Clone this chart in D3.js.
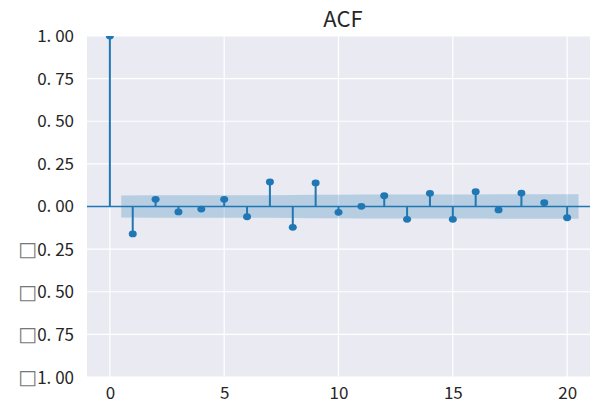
<!DOCTYPE html>
<html>
<head>
<meta charset="UTF-8">
<title>ACF</title>
<style>
  body { margin: 0; background: #fff; }
  text { font-family: "Noto Sans CJK SC", "Noto Sans", sans-serif; fill: #262626; white-space: pre; }
  tspan.box { font-family: "DejaVu Sans", sans-serif; fill: #777; }
</style>
<script src="https://d3js.org/d3.v7.min.js"></script>
</head>
<body>
<script>
// lags and autocorrelation values
var lags = [0, 1, 2, 3, 4, 5, 6, 7, 8, 9, 10, 11, 12, 13, 14, 15, 16, 17, 18, 19, 20];
var acf = [1.0, -0.161, 0.042, -0.032, -0.015, 0.042, -0.060, 0.144, -0.122, 0.138,
           -0.034, 0.001, 0.063, -0.075, 0.077, -0.075, 0.087, -0.020, 0.079, 0.022, -0.066];
// half width of the confidence band for lags 1..20
var bandLags = [0.5, 2, 3, 4, 5, 6, 7, 8, 9, 10, 11, 12, 13, 14, 15, 16, 17, 18, 19, 20.5];
var bandHalf = [0.064, 0.0656, 0.0657, 0.0658, 0.0658, 0.0659, 0.0661, 0.0674, 0.0684, 0.0696,
                0.0697, 0.0697, 0.0700, 0.0703, 0.0707, 0.0710, 0.0715, 0.0715, 0.0719, 0.0719];
var xTicks = [0, 5, 10, 15, 20];
var yTicks = [1, 0.75, 0.5, 0.25, 0, -0.25, -0.5, -0.75, -1];

var W = 590, H = 403;
var margin = {top: 36, right: 0, bottom: 26, left: 87};
var width = W - margin.left - margin.right,
    height = H - margin.top - margin.bottom;

var blue = "#1f77b4";

var x = d3.scaleLinear().domain([-1, 21]).range([0, width]);
var y = d3.scaleLinear().domain([-1, 1]).range([height, 0]);

var svg = d3.select("body").append("svg")
    .attr("width", W)
    .attr("height", H);

svg.append("text")
    .attr("x", margin.left + 256)
    .attr("y", 27)
    .attr("text-anchor", "middle")
    .style("font-size", "22px")
    .text("ACF");

var g = svg.append("g")
    .attr("transform", "translate(" + margin.left + "," + margin.top + ")");

g.append("defs").append("clipPath").attr("id", "clip")
  .append("rect").attr("width", width).attr("height", height);

g.append("rect")
    .attr("width", width)
    .attr("height", height)
    .attr("fill", "#EAEAF2");

// grid
g.selectAll(".gy").data(yTicks).enter().append("line")
    .attr("x1", 0).attr("x2", width)
    .attr("y1", function(d) { return y(d); })
    .attr("y2", function(d) { return y(d); })
    .attr("stroke", "#fff").attr("stroke-width", 1.2);

g.selectAll(".gx").data(xTicks).enter().append("line")
    .attr("y1", 0).attr("y2", height)
    .attr("x1", function(d) { return x(d); })
    .attr("x2", function(d) { return x(d); })
    .attr("stroke", "#fff").attr("stroke-width", 1.2);

// axes (labels only)
var fmt = d3.format(".2f");
var yAxis = d3.axisLeft(y).tickValues(yTicks).tickSize(0).tickPadding(13);
var xAxis = d3.axisBottom(x).tickValues(xTicks).tickSize(0).tickPadding(10)
    .tickFormat(d3.format("d"));

var yLabels = g.append("g").attr("class", "y axis").call(yAxis)
  .call(function(s) { s.select(".domain").remove(); })
  .selectAll("text").style("font-size", "17px").attr("fill", "#262626");

// the minus sign shows as a missing-glyph box in the original
yLabels.text(null).each(function(d) {
  var t = d3.select(this);
  var s = fmt(Math.abs(d)).replace(".", ". ");
  if (d < 0) {
    t.attr("dy", null);
    t.append("tspan").attr("class", "box").style("font-size", "20px").attr("dy", "6.5").text("\u25A1");
    t.append("tspan").attr("dy", "-0.5").text(s);
  } else {
    t.text(s);
  }
});

g.append("g").attr("class", "x axis")
    .attr("transform", "translate(0," + height + ")")
    .call(xAxis)
  .call(function(s) { s.select(".domain").remove(); })
  .selectAll("text").style("font-size", "17px").attr("fill", "#262626");

var plot = g.append("g").attr("clip-path", "url(#clip)");

// confidence band
var area = d3.area()
    .x(function(d, i) { return x(bandLags[i]); })
    .y0(function(d) { return y(-d); })
    .y1(function(d) { return y(d); });

plot.append("path")
    .attr("d", area(bandHalf))
    .attr("fill", blue)
    .attr("fill-opacity", 0.25);

// zero line
plot.append("line")
    .attr("x1", 0).attr("x2", width)
    .attr("y1", y(0)).attr("y2", y(0))
    .attr("stroke", blue).attr("stroke-width", 1.5);

// stems
plot.selectAll(".stem").data(lags).enter().append("line")
    .attr("x1", function(d) { return x(d); })
    .attr("x2", function(d) { return x(d); })
    .attr("y1", y(0))
    .attr("y2", function(d, i) { return y(acf[i]); })
    .attr("stroke", blue).attr("stroke-width", 2);

// markers
plot.selectAll(".dot").data(lags).enter().append("ellipse")
    .attr("cx", function(d) { return x(d); })
    .attr("cy", function(d, i) { return y(acf[i]); })
    .attr("rx", 4).attr("ry", 3.4)
    .attr("fill", blue);
</script>
</body>
</html>
